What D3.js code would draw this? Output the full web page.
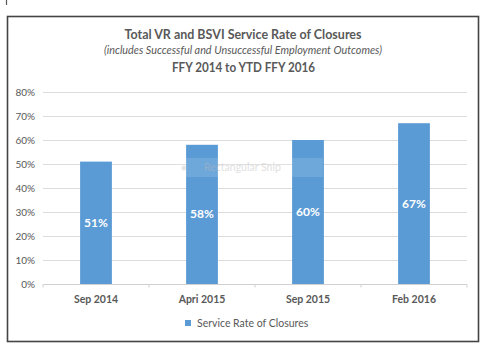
<!DOCTYPE html>
<html>
<head>
<meta charset="utf-8">
<script src="https://cdn.jsdelivr.net/npm/d3@7"></script>
<style>
  html, body { margin: 0; padding: 0; background: #fff; }
  svg { display: block; font-family: Lato, "Open Sans", sans-serif; }
</style>
</head>
<body>
<svg id="chart" width="485" height="349"></svg>
<script>
// Service rate of closures by reporting period
const categories = ["Sep 2014", "Apri 2015", "Sep 2015", "Feb 2016"];
const serviceRate = [51, 58, 60, 67];
const yTicks = [0, 10, 20, 30, 40, 50, 60, 70, 80];
const seriesName = "Service Rate of Closures";
const titleLines = [
  "Total VR and BSVI Service Rate of Closures",
  "(includes Successful and Unsuccessful Employment Outcomes)",
  "FFY 2014 to YTD FFY 2016"
];

const svg = d3.select("#chart");
const barColor = "#5b9bd5";
const textColor = "#595959";

// small tick mark at the top-left edge
svg.append("line").attr("x1", 6.5).attr("x2", 6.5).attr("y1", 0).attr("y2", 5)
  .attr("stroke", "#555").attr("stroke-width", 1.2);

// outer frame
svg.append("rect").attr("x", 7.5).attr("y", 16.5).attr("width", 471).attr("height", 325)
  .attr("fill", "#fff").attr("stroke", "#444").attr("stroke-width", 1.6);

// titles
svg.append("text").attr("x", 243).attr("y", 39).attr("text-anchor", "middle")
  .attr("font-size", 14).attr("font-weight", "bold").attr("fill", textColor)
  .attr("textLength", 237).attr("lengthAdjust", "spacingAndGlyphs")
  .text(titleLines[0]);
svg.append("text").attr("x", 243).attr("y", 54).attr("text-anchor", "middle")
  .attr("font-size", 11).attr("font-style", "italic").attr("fill", textColor)
  .attr("textLength", 278).attr("lengthAdjust", "spacingAndGlyphs")
  .text(titleLines[1]);
svg.append("text").attr("x", 243.5).attr("y", 72).attr("text-anchor", "middle")
  .attr("font-size", 14).attr("font-weight", "bold").attr("fill", textColor)
  .attr("textLength", 143).attr("lengthAdjust", "spacingAndGlyphs")
  .text(titleLines[2]);

// scales
const x = d3.scaleBand().domain(categories).range([43, 467]).paddingInner(0.7).paddingOuter(0.35);
const y = d3.scaleLinear().domain([0, 80]).range([284, 92]);

// gridlines
svg.append("g").selectAll("line").data(yTicks.filter(d => d > 0)).join("line")
  .attr("x1", 43).attr("x2", 467)
  .attr("y1", d => Math.round(y(d)) + 0.5).attr("y2", d => Math.round(y(d)) + 0.5)
  .attr("stroke", "#dcdcdc").attr("stroke-width", 1);

// y axis labels
const yAxis = d3.axisLeft(y).tickValues(yTicks).tickFormat(d => d + "%").tickSize(0).tickPadding(8);
const yg = svg.append("g").attr("transform", "translate(43,0)").call(yAxis);
yg.select(".domain").remove();
yg.selectAll("text").attr("font-size", 10).attr("fill", textColor)
  .attr("font-family", "Lato, 'Open Sans', sans-serif");

// bars
svg.append("g").selectAll("rect").data(serviceRate).join("rect")
  .attr("x", (d, i) => x(categories[i]))
  .attr("width", x.bandwidth())
  .attr("y", d => y(d))
  .attr("height", d => y(0) - y(d))
  .attr("fill", barColor);

// value labels inside bars
svg.append("g").selectAll("text").data(serviceRate).join("text")
  .attr("x", (d, i) => x(categories[i]) + x.bandwidth() / 2)
  .attr("y", d => (y(d) + y(0)) / 2 + 4)
  .attr("text-anchor", "middle")
  .attr("font-size", 12).attr("font-weight", "bold").attr("fill", "#fff")
  .text(d => d + "%");

// faint translucent tooltip overlay
const snip = svg.append("g");
snip.append("rect").attr("x", 175).attr("y", 158).attr("width", 148).attr("height", 19)
  .attr("fill", "#fff").attr("opacity", 0.12);
snip.append("circle").attr("cx", 184).attr("cy", 168).attr("r", 2.5).attr("fill", "#ccc").attr("opacity", 0.5);
snip.append("text").attr("x", 204).attr("y", 171).attr("font-size", 10.5).attr("fill", "#bbb")
  .attr("opacity", 0.45).text("Rectangular Snip");

// x axis
const xAxis = d3.axisBottom(x).tickSize(0).tickPadding(11);
const xg = svg.append("g").attr("transform", "translate(0,284.5)").call(xAxis);
xg.select(".domain").attr("stroke", "#d0d0d0").attr("d", "M43,0H467");
xg.selectAll("text").attr("font-size", 10.5).attr("font-weight", "bold").attr("fill", textColor)
  .attr("font-family", "Lato, 'Open Sans', sans-serif");
// category separators on the axis
const edges = categories.map(c => x(c) - x.step() * x.paddingInner() / 2 - (c === categories[0] ? x.step() * (x.paddingOuter() - x.paddingInner() / 2) : 0));
edges.push(467);
xg.append("g").selectAll("line").data(edges).join("line")
  .attr("x1", d => d).attr("x2", d => d).attr("y1", 0).attr("y2", 3)
  .attr("stroke", "#d0d0d0");

// legend
svg.append("rect").attr("x", 185).attr("y", 320).attr("width", 6).attr("height", 6).attr("fill", barColor);
svg.append("text").attr("x", 197).attr("y", 327).attr("font-size", 10.5).attr("fill", textColor)
  .text(seriesName);
</script>
</body>
</html>
